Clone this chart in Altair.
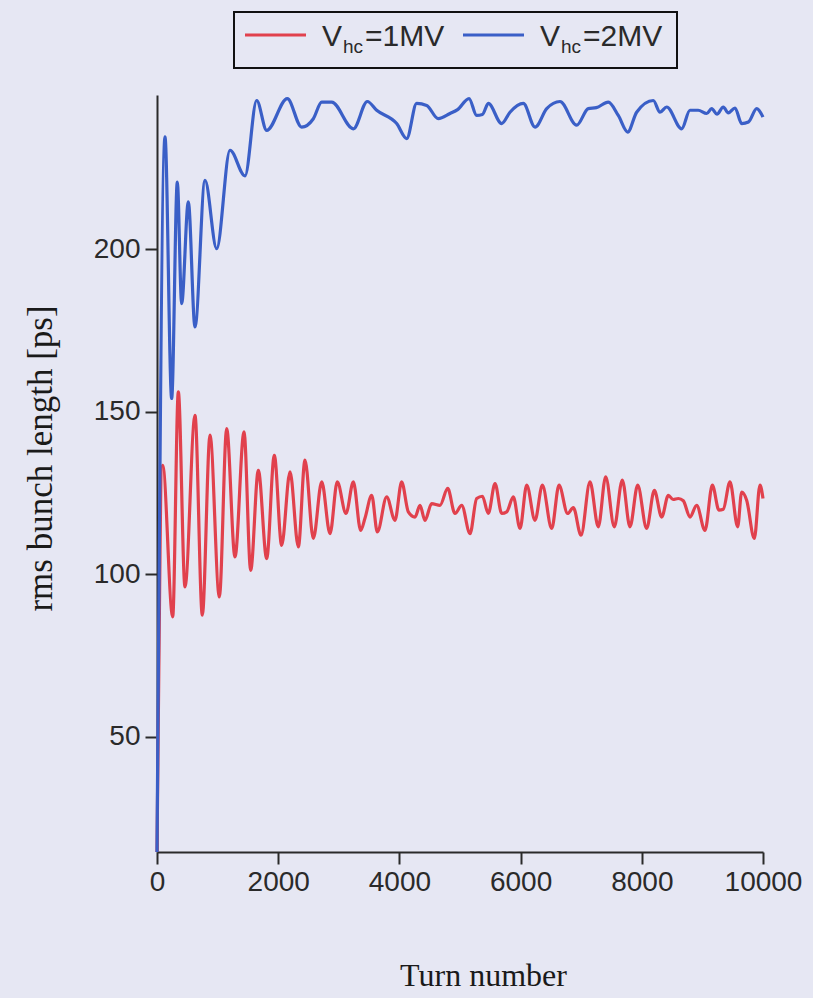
import altair as alt
import pandas as pd

# Simulated rms bunch length vs. turn number for two harmonic-cavity voltages
TURNS_1MV = [0, 94, 259, 352, 462, 627, 748, 875, 1029, 1150, 1287, 1436, 1546, 1672, 1810,
             1936, 2057, 2195, 2332, 2442, 2580, 2718, 2855, 2975, 3119, 3240, 3361, 3432,
             3543, 3636, 3790, 3927, 4037, 4147, 4257, 4340, 4422, 4532, 4670, 4797, 4917,
             5028, 5165, 5275, 5370, 5467, 5578, 5688, 5771, 5880, 5990, 6101, 6238, 6359,
             6513, 6634, 6776, 6870, 6997, 7145, 7282, 7404, 7546, 7678, 7805, 7932, 8080,
             8207, 8328, 8438, 8515, 8603, 8685, 8795, 8905, 9043, 9164, 9274, 9345, 9455,
             9582, 9648, 9730, 9857, 9950, 10000]
RMS_1MV = [14.5, 133.5, 86.9, 156.1, 96.1, 148.9, 87.4, 142.8, 93.0, 144.8, 105.3, 143.8, 101.2,
           132.0, 104.8, 136.6, 108.9, 131.5, 108.4, 135.1, 111.0, 128.4, 112.5, 128.4, 118.7,
           128.4, 113.5, 117.2, 124.3, 113.0, 123.8, 116.6, 128.4, 119.2, 117.6, 121.2, 116.6,
           121.7, 121.2, 126.4, 118.7, 121.2, 112.5, 123.3, 124.0, 118.7, 127.9, 118.7, 119.2,
           123.8, 114.1, 127.4, 116.6, 127.4, 114.1, 127.4, 118.7, 120.5, 112.0, 128.4, 114.6,
           130.0, 114.6, 129.0, 114.6, 127.4, 114.1, 125.8, 117.6, 124.3, 123.0, 123.3, 122.6,
           117.6, 121.2, 113.5, 127.4, 119.7, 120.0, 128.4, 114.6, 125.3, 122.8, 111.0, 127.4,
           123.3]

TURNS_2MV = [0, 132, 242, 335, 407, 517, 627, 792, 985, 1205, 1452, 1645, 1810, 2150, 2387,
             2580, 2718, 2883, 3240, 3471, 3625, 3955, 4120, 4285, 4450, 4642, 4835, 4960,
             5149, 5275, 5370, 5467, 5688, 5825, 6045, 6238, 6431, 6650, 6925, 7117, 7250,
             7447, 7612, 7767, 7915, 8190, 8300, 8410, 8658, 8795, 8930, 9071, 9153, 9240,
             9345, 9428, 9538, 9648, 9760, 9896, 10000]
RMS_2MV = [14.5, 234.6, 154.1, 220.7, 183.3, 214.6, 176.1, 221.2, 200.2, 230.5, 222.6, 245.8,
           236.6, 246.4, 237.6, 240.2, 245.3, 245.3, 237.1, 245.5, 242.8, 238.7, 234.1, 244.9,
           244.3, 240.2, 241.8, 243.0, 246.4, 241.2, 241.5, 244.9, 238.7, 242.2, 244.9, 237.6,
           243.3, 245.5, 238.2, 243.3, 243.6, 245.3, 241.2, 236.1, 242.2, 245.8, 242.2, 243.8,
           237.1, 242.8, 242.8, 241.8, 243.3, 241.6, 243.8, 242.0, 243.5, 238.7, 239.2, 243.3,
           240.7]

SERIES = ["Vhc=1MV", "Vhc=2MV"]
COLORS = ["#e1414d", "#3a5fc7"]
X_TICKS = [0, 2000, 4000, 6000, 8000, 10000]
Y_TICKS = [50, 100, 150, 200]
X_TITLE = "Turn number"
Y_TITLE = "rms bunch length [ps]"
LEGEND_MAIN = "V"
LEGEND_SUB = "hc"
LEGEND_TAIL = ["=1MV", "=2MV"]

BG = "#e6e7f3"
INK = "#2a2a2a"
SANS = "Liberation Sans"
SERIF = "Liberation Serif"

df = pd.concat([
    pd.DataFrame({"turn": TURNS_1MV, "rms": RMS_1MV, "series": SERIES[0]}),
    pd.DataFrame({"turn": TURNS_2MV, "rms": RMS_2MV, "series": SERIES[1]}),
])

lines = alt.Chart(df).mark_line(strokeWidth=3.2, interpolate="monotone").encode(
    x=alt.X("turn:Q",
            scale=alt.Scale(domain=[0, 10000], nice=False, zero=False),
            axis=alt.Axis(values=X_TICKS, title=X_TITLE, grid=False, format="d",
                          labelFont=SANS, labelFontSize=28, labelColor=INK, labelPadding=4,
                          labelFlush=False, labelOverlap=False,
                          tickSize=12, tickWidth=2, tickColor=INK,
                          domainColor=INK, domainWidth=2,
                          titleFont=SERIF, titleFontSize=32, titleFontWeight="normal",
                          titleColor="#1a1a1a", titleX=326, titleY=123,
                          titleBaseline="middle", titleAlign="center")),
    y=alt.Y("rms:Q",
            scale=alt.Scale(domain=[14.5, 247.5], nice=False, zero=False),
            axis=alt.Axis(values=Y_TICKS, title=Y_TITLE, grid=False,
                          labelFont=SANS, labelFontSize=28, labelColor=INK, labelPadding=5,
                          labelFlush=False, labelOverlap=False,
                          tickSize=12, tickWidth=2, tickColor=INK,
                          domainColor=INK, domainWidth=2,
                          titleFont=SERIF, titleFontSize=35, titleFontWeight="normal",
                          titleColor="#1a1a1a", titleX=-117, titleY=363,
                          titleBaseline="middle", titleAlign="center", titleAngle=270)),
    color=alt.Color("series:N", scale=alt.Scale(domain=SERIES, range=COLORS), legend=None),
)

# Framed legend above the plot, with a subscripted "hc"
one = pd.DataFrame({"k": [0]})
frame = alt.Chart(one).mark_rect(fill=BG, stroke="#111111", strokeWidth=2).encode(
    x=alt.value(77), x2=alt.value(520), y=alt.value(-83), y2=alt.value(-27))

legend_layers = [frame]
for i, (x0, color) in enumerate([(88, COLORS[0]), (306, COLORS[1])]):
    legend_layers.append(
        alt.Chart(one).mark_rule(strokeWidth=3, color=color).encode(
            x=alt.value(x0), x2=alt.value(x0 + 61), y=alt.value(-60)))
    tx = x0 + 77
    legend_layers.append(
        alt.Chart(one).mark_text(align="left", baseline="alphabetic", font=SANS,
                                 fontSize=30, color=INK).encode(
            x=alt.value(tx), y=alt.value(-49), text=alt.value(LEGEND_MAIN)))
    legend_layers.append(
        alt.Chart(one).mark_text(align="left", baseline="alphabetic", font=SANS,
                                 fontSize=19, color=INK).encode(
            x=alt.value(tx + 21), y=alt.value(-42), text=alt.value(LEGEND_SUB)))
    legend_layers.append(
        alt.Chart(one).mark_text(align="left", baseline="alphabetic", font=SANS,
                                 fontSize=30, color=INK).encode(
            x=alt.value(tx + 43), y=alt.value(-49), text=alt.value(LEGEND_TAIL[i])))

chart = alt.layer(lines, *legend_layers).properties(
    width=606, height=757,
    autosize=alt.AutoSizeParams(type="none"),
    padding={"left": 157, "top": 95, "right": 50, "bottom": 146},
    background=BG,
).configure_view(stroke=None)

chart.save("out.html", embed_options={"renderer": "svg", "actions": False})
